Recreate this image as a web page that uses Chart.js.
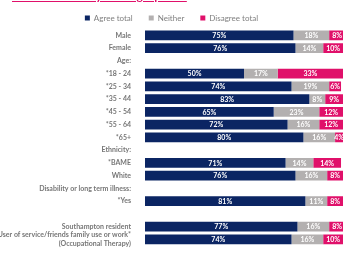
<!DOCTYPE html>
<html>
<head>
<meta charset="utf-8">
<script src="https://cdn.jsdelivr.net/npm/chart.js@4.4.0/dist/chart.umd.min.js"></script>
<style>
  html, body { margin:0; padding:0; background:#fff; overflow:hidden; }
  body { width:345px; height:256px; position:relative; }
  #wrap { position:absolute; left:0; top:0; width:365px; height:256px; }
  #ttl { position:absolute; left:12px; top:-12px; font:bold 12px Lato, sans-serif; letter-spacing:0.3px; color:#e0106a; text-decoration:underline; white-space:nowrap; z-index:2; }
</style>
</head>
<body>
<div id="ttl">broken down by demographics:</div>
<div id="wrap"><canvas id="c" width="365" height="256"></canvas></div>
<script>
const categories = ["Male","Female","Age:","*18 - 24","*25 - 34","*35 - 44","*45 - 54","*55 - 64","*65+","Ethnicity:","*BAME","White","Disability or long term illness:","*Yes","","Southampton resident",["User of service/friends family use or work*","(Occupational Therapy)"]];
const agreeTotal    = [75,76,null,50,74,83,65,72,80,null,71,76,null,81,null,77,74];
const neitherTotal  = [18,14,null,17,19, 8,23,16,16,null,14,16,null,11,null,16,16];
const disagreeTotal = [ 8,10,null,33, 6, 9,12,12, 4,null,14, 8,null, 8,null, 8,10];
const seriesNames = ["Agree total","Neither","Disagree total"];
const seriesColors = ["#0b2563","#b3b0b0","#e0106a"];

const labelPlugin = {
  id:'segLabels',
  afterDatasetsDraw(chart){
    const ctx = chart.ctx;
    ctx.save();
    const a = chart.chartArea;
    ctx.beginPath(); ctx.rect(a.left, a.top, a.right-a.left, a.bottom-a.top); ctx.clip();
    ctx.font = 'bold 7px Lato, sans-serif';
    ctx.fillStyle = '#ffffff';
    ctx.textAlign = 'center';
    ctx.textBaseline = 'middle';
    chart.data.datasets.forEach((ds, di) => {
      const meta = chart.getDatasetMeta(di);
      meta.data.forEach((el, i) => {
        const v = ds.data[i];
        if (v === null || v === undefined) return;
        const x = (el.x + el.base) / 2;
        ctx.fillText(v + '%', x, el.y + 0.5);
      });
    });
    ctx.restore();
  }
};

const legendShrink = {
  id:'legendShrink',
  beforeLayout(chart){
    const lg = chart.legend;
    if (lg && !lg._patched){
      const orig = lg.fit.bind(lg);
      lg.fit = function(){ orig(); this.height -= 3; };
      lg._patched = true;
    }
  }
};

new Chart(document.getElementById('c'), {
  type:'bar',
  data:{
    labels: categories,
    datasets: [agreeTotal, neitherTotal, disagreeTotal].map((d, i) => ({
      label: seriesNames[i],
      data: d,
      backgroundColor: seriesColors[i],
      borderWidth: 0,
      barPercentage: 0.76,
      categoryPercentage: 1.0
    }))
  },
  options:{
    indexAxis:'y',
    responsive:false,
    animation:false,
    layout:{ padding:{ top:-2, right:22, bottom:6, left:0 } },
    plugins:{
      legend:{
        position:'top',
        labels:{
          boxWidth:5, boxHeight:5, padding:16,
          color:'#7f7f7f',
          font:{ family:'Lato', size:8 }
        }
      },
      tooltip:{ enabled:false }
    },
    scales:{
      x:{ stacked:true, min:0, max:100, display:false },
      y:{
        stacked:true,
        grid:{ display:false },
        border:{ display:false },
        ticks:{ color:'#767676', font:{ family:'Lato', size:7, weight:'bold' }, padding:6, autoSkip:false },
        afterFit(scale){ scale.width = 145; }
      }
    }
  },
  plugins:[labelPlugin, legendShrink]
});
</script>
</body>
</html>
